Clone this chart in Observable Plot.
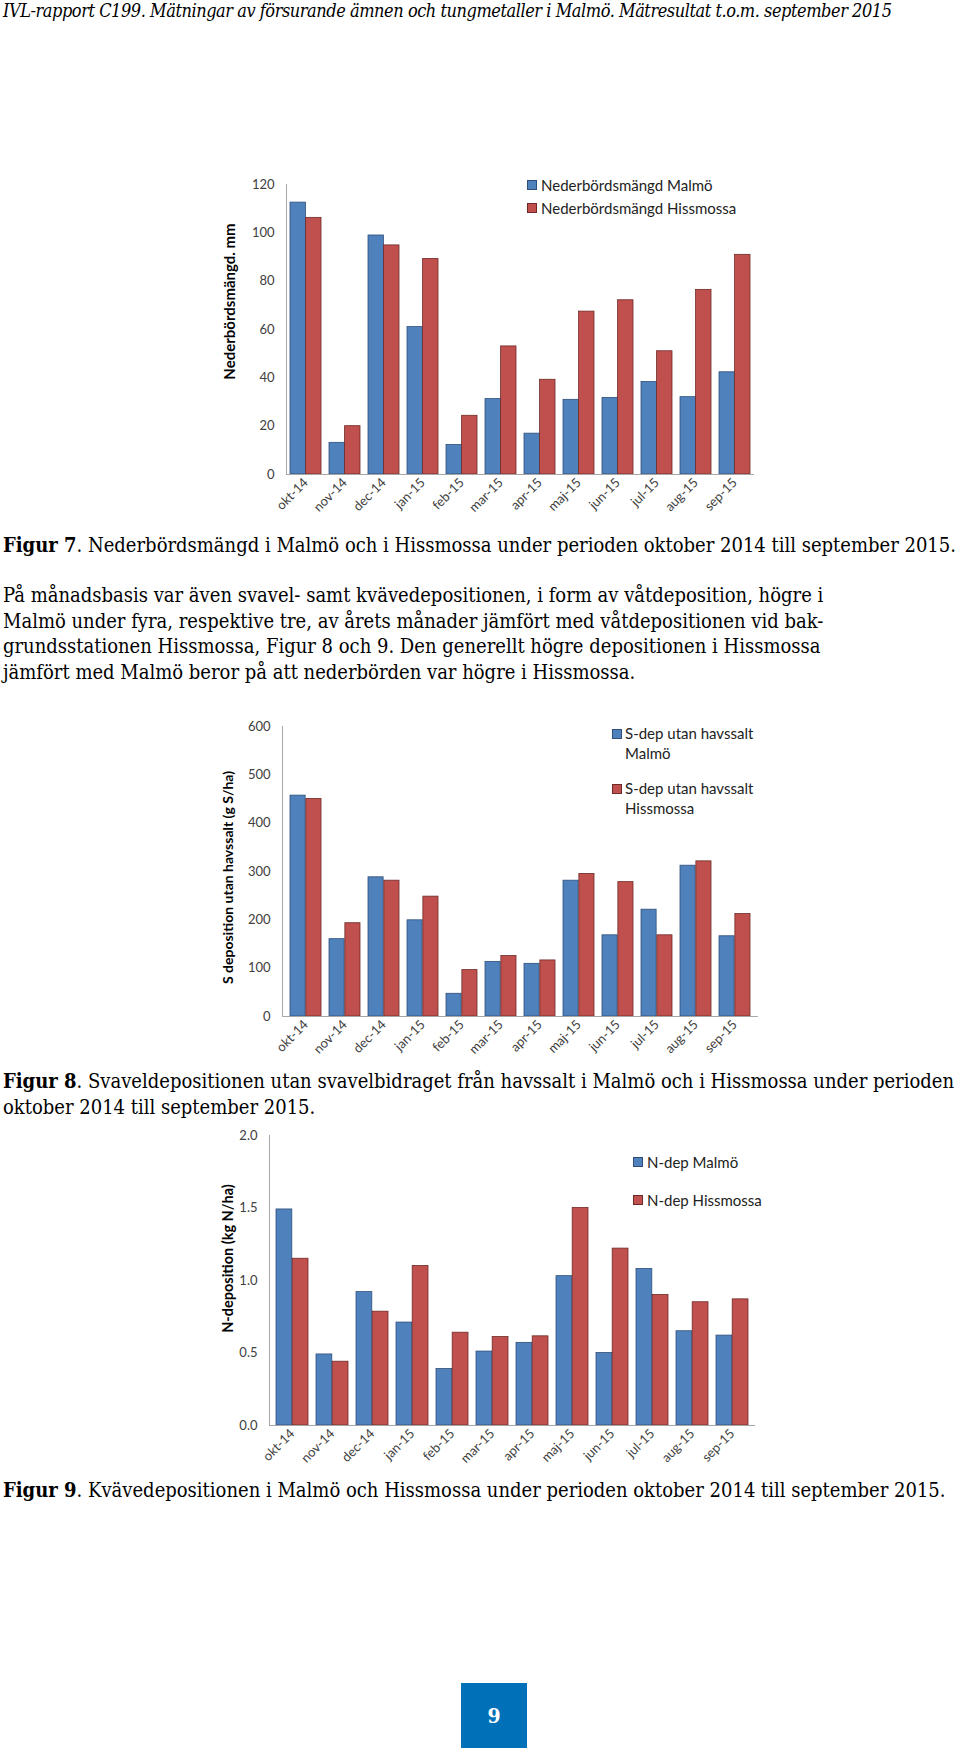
<!DOCTYPE html>
<html>
<head>
<meta charset="utf-8">
<script src="https://cdn.jsdelivr.net/npm/d3@7"></script>
<script src="https://cdn.jsdelivr.net/npm/@observablehq/plot@0.6"></script>
<style>
  html, body { margin: 0; padding: 0; background: #fff; }
  #page { position: relative; width: 960px; height: 1756px; overflow: hidden; background: #fff; }
  .abs { position: absolute; }
  .serif { font-family: "DejaVu Serif Condensed", "DejaVu Serif", serif; font-stretch: condensed; color: #000; }
  .header { left: 3px; top: 0px; font-size: 18px; line-height: 22px; font-style: italic; white-space: nowrap; letter-spacing: -0.45px; }
  .body { font-size: 20px; line-height: 25.7px; white-space: nowrap; left: 3px; }
  .legend { font-family: Lato, sans-serif; font-size: 15px; color: #222; }
  .legend .item { position: absolute; white-space: nowrap; }
  .legend .sw { position: absolute; width: 8px; height: 8px; border: 1px solid; }
  .pagebox { left: 461px; top: 1683px; width: 66px; height: 65px; background: #0070b8; color: #fff; font-weight: bold; font-size: 21px; display: flex; align-items: center; justify-content: center; }
</style>
</head>
<body>
<div id="page">
  <div class="abs serif header">IVL-rapport C199. Mätningar av försurande ämnen och tungmetaller i Malmö. Mätresultat t.o.m. september 2015</div>
  <div id="c1" class="abs" style="left:0;top:150px;"></div>
  <div id="c2" class="abs" style="left:0;top:700px;"></div>
  <div id="c3" class="abs" style="left:0;top:1120px;"></div>

  <div class="abs serif body" style="top:532px;line-height:26px;"><b>Figur 7</b>. Nederbördsmängd i Malmö och i Hissmossa under perioden oktober 2014 till september 2015.</div>
  <div class="abs serif body" style="top:583px;">På månadsbasis var även svavel- samt kvävedepositionen, i form av våtdeposition, högre i<br>Malmö under fyra, respektive tre, av årets månader jämfört med våtdepositionen vid bak-<br>grundsstationen Hissmossa, Figur 8 och 9. Den generellt högre depositionen i Hissmossa<br>jämfört med Malmö beror på att nederbörden var högre i Hissmossa.</div>
  <div class="abs serif body" style="top:1068px;line-height:26px;"><b>Figur 8</b>. Svaveldepositionen utan svavelbidraget från havssalt i Malmö och i Hissmossa under perioden<br>oktober 2014 till september 2015.</div>
  <div class="abs serif body" style="top:1477px;line-height:26px;"><b>Figur 9</b>. Kvävedepositionen i Malmö och Hissmossa under perioden oktober 2014 till september 2015.</div>

  <div id="leg1" class="abs legend" style="left:0;top:0;"></div>
  <div id="leg2" class="abs legend" style="left:0;top:0;"></div>
  <div id="leg3" class="abs legend" style="left:0;top:0;"></div>

  <div class="abs serif pagebox">9</div>
</div>
<script>
// ---------- data ----------
const months = ["okt-14","nov-14","dec-14","jan-15","feb-15","mar-15","apr-15","maj-15","jun-15","jul-15","aug-15","sep-15"];

const precipMalmo = [112.5, 13.1, 98.9, 61.0, 12.2, 31.2, 16.9, 30.9, 31.7, 38.3, 32.0, 42.3];
const precipHissmossa = [106.2, 20.0, 94.8, 89.2, 24.3, 53.0, 39.2, 67.4, 72.1, 51.0, 76.4, 90.9];
const precipTicks = [0, 20, 40, 60, 80, 100, 120];

const sDepMalmo = [457, 160, 288, 199, 47, 113, 109, 281, 168, 221, 312, 166];
const sDepHissmossa = [450, 193, 281, 248, 96, 125, 116, 295, 278, 168, 321, 212];
const sDepTicks = [0, 100, 200, 300, 400, 500, 600];

const nDepMalmo = [1.49, 0.49, 0.92, 0.71, 0.39, 0.51, 0.57, 1.03, 0.50, 1.08, 0.65, 0.62];
const nDepHissmossa = [1.15, 0.44, 0.785, 1.10, 0.64, 0.61, 0.615, 1.50, 1.22, 0.90, 0.85, 0.87];
const nDepTicks = [0, 0.5, 1.0, 1.5, 2.0];

const seriesNames1 = ["Nederbördsmängd Malmö", "Nederbördsmängd Hissmossa"];
const seriesNames2 = ["S-dep utan havssalt Malmö", "S-dep utan havssalt Hissmossa"];
const seriesNames3 = ["N-dep Malmö", "N-dep Hissmossa"];

// ---------- styles ----------
const BLUE = "#4f81bd", BLUE_EDGE = "#2f4f7a";
const RED = "#c0504d", RED_EDGE = "#6e2a28";
const AXIS = "#a6a6a6";

function chart({a, b, ticks, fmt, title, titleSize, titleDx, titleDy, height, marginLeft, marginRight, marginTop, marginBottom}) {
  const rowsA = months.map((m, i) => ({month: m, value: a[i]}));
  const rowsB = months.map((m, i) => ({month: m, value: b[i]}));
  const frameW = 960 - marginLeft - marginRight;
  const step = frameW / 12;           // paddingInner .2, paddingOuter .1
  const half = step * 0.8 / 2;
  return Plot.plot({
    width: 960,
    height,
    marginLeft, marginRight, marginTop, marginBottom,
    style: {fontFamily: "Lato, sans-serif", fontSize: "13px", color: "#404040", background: "transparent", overflow: "visible"},
    x: {domain: months, paddingInner: 0.2, paddingOuter: 0.1, label: null, tickSize: 0, tickRotate: -45, tickPadding: 6},
    y: {domain: [ticks[0], ticks[ticks.length - 1]], ticks, tickFormat: fmt, label: null, tickSize: 0, tickPadding: 12},
    marks: [
      Plot.barY(rowsA, {x: "month", y: "value", fill: BLUE, stroke: BLUE_EDGE, strokeWidth: 0.8, insetRight: half}),
      Plot.barY(rowsB, {x: "month", y: "value", fill: RED, stroke: RED_EDGE, strokeWidth: 0.8, insetLeft: half}),
      Plot.frame({anchor: "left", stroke: AXIS}),
      Plot.ruleY([ticks[0]], {stroke: AXIS}),
      Plot.text([title], {frameAnchor: "left", textAnchor: "middle", dx: titleDx, dy: titleDy, rotate: -90, fontWeight: "bold", fontSize: titleSize, fill: "#000"})
    ]
  });
}

document.getElementById("c1").appendChild(chart({
  a: precipMalmo, b: precipHissmossa, ticks: precipTicks, fmt: d3.format("d"),
  title: "Nederbördsmängd. mm", titleSize: 15, titleDx: -56, titleDy: -28,
  height: 380, marginLeft: 286, marginRight: 206, marginTop: 34, marginBottom: 56
}));
document.getElementById("c2").appendChild(chart({
  a: sDepMalmo, b: sDepHissmossa, ticks: sDepTicks, fmt: d3.format("d"),
  title: "S deposition utan havssalt (g S/ha)", titleSize: 14, titleDx: -54, titleDy: 6,
  height: 370, marginLeft: 282, marginRight: 202, marginTop: 26, marginBottom: 54
}));
document.getElementById("c3").appendChild(chart({
  a: nDepMalmo, b: nDepHissmossa, ticks: nDepTicks, fmt: d3.format(".1f"),
  title: "N-deposition (kg N/ha)", titleSize: 14.5, titleDx: -41, titleDy: -22,
  height: 355, marginLeft: 269, marginRight: 205, marginTop: 15, marginBottom: 50
}));

// ---------- legends (HTML) ----------
function legend(id, entries) {
  const el = document.getElementById(id);
  for (const e of entries) {
    const sw = document.createElement("div");
    sw.className = "sw";
    sw.style.left = e.sx + "px"; sw.style.top = (e.y - 5) + "px";
    sw.style.background = e.fill; sw.style.borderColor = e.edge;
    el.appendChild(sw);
    const t = document.createElement("div");
    t.className = "item";
    t.style.left = e.tx + "px"; t.style.top = (e.y - 10) + "px";
    t.style.lineHeight = e.lh + "px";
    t.innerHTML = e.html;
    el.appendChild(t);
  }
}
legend("leg1", [
  {sx: 527, tx: 541, y: 185, lh: 20, fill: BLUE, edge: BLUE_EDGE, html: seriesNames1[0]},
  {sx: 527, tx: 541, y: 208, lh: 20, fill: RED, edge: RED_EDGE, html: seriesNames1[1]}
]);
legend("leg2", [
  {sx: 612, tx: 625, y: 734, lh: 19.5, fill: BLUE, edge: BLUE_EDGE, html: seriesNames2[0].replace(" Malmö", "<br>Malmö")},
  {sx: 612, tx: 625, y: 789, lh: 19.5, fill: RED, edge: RED_EDGE, html: seriesNames2[1].replace(" Hissmossa", "<br>Hissmossa")}
]);
legend("leg3", [
  {sx: 633, tx: 647, y: 1162, lh: 20, fill: BLUE, edge: BLUE_EDGE, html: seriesNames3[0]},
  {sx: 633, tx: 647, y: 1200, lh: 20, fill: RED, edge: RED_EDGE, html: seriesNames3[1]}
]);
</script>
</body>
</html>
